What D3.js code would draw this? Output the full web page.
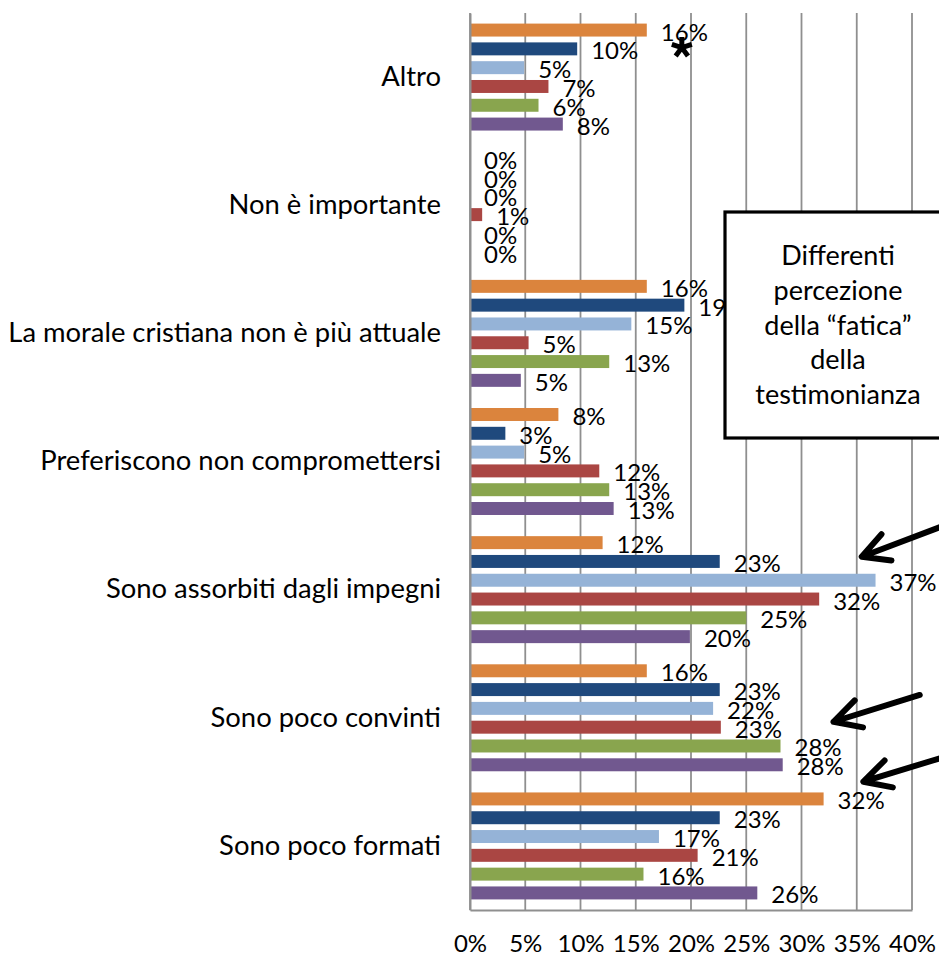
<!DOCTYPE html>
<html>
<head>
<meta charset="utf-8">
<script src="https://cdn.jsdelivr.net/npm/d3@7"></script>
<style>
  html, body { margin: 0; padding: 0; background: #ffffff; }
  svg { display: block; }
  text { font-family: Lato, "Open Sans", sans-serif; fill: #000; }
</style>
</head>
<body>
<script>
// Categories, top to bottom
const categories = [
  "Altro",
  "Non è importante",
  "La morale cristiana non è più attuale",
  "Preferiscono non compromettersi",
  "Sono assorbiti dagli impegni",
  "Sono poco convinti",
  "Sono poco formati"
];

// Series values (percent), one entry per category
const serieArancio = [16.0, 0.0, 16.0, 8.0, 12.0, 16.0, 32.0];
const serieBlu     = [9.7, 0.0, 19.4, 3.2, 22.6, 22.6, 22.6];
const serieAzzurro = [4.9, 0.0, 14.6, 4.9, 36.7, 22.0, 17.1];
const serieRosso   = [7.1, 1.1, 5.3, 11.7, 31.6, 22.7, 20.6];
const serieVerde   = [6.2, 0.0, 12.6, 12.6, 25.0, 28.1, 15.7];
const serieViola   = [8.4, 0.0, 4.6, 13.0, 19.9, 28.3, 26.0];

const seriesKeys   = ["arancio", "blu", "azzurro", "rosso", "verde", "viola"];
const seriesValues = [serieArancio, serieBlu, serieAzzurro, serieRosso, serieVerde, serieViola];
const seriesColors = ["#DB843D", "#1F497D", "#95B3D7", "#AA4643", "#89A54E", "#71588F"];

// Axis ticks (percent)
const xTicks = [0, 5, 10, 15, 20, 25, 30, 35, 40];

// Callout box text
const boxLines = ["Differenti", "percezione", "della \u201Cfatica\u201D", "della", "testimonianza"];

const W = 939, H = 956;
const plot = { left: 470, right: 912, top: 13, bottom: 910 };
const FONT = "Lato, 'Open Sans', sans-serif";

const svg = d3.select("body").append("svg")
  .attr("width", W).attr("height", H)
  .attr("viewBox", `0 0 ${W} ${H}`);

const x = d3.scaleLinear().domain([0, 40]).range([plot.left, plot.right]);
const y = d3.scaleBand().domain(categories).range([plot.top, plot.bottom]);
const yInner = d3.scaleBand().domain(seriesKeys)
  .range([0, y.bandwidth()])
  .paddingInner(0.31)
  .paddingOuter(0.563);
// continuous vertical position in category units (0 = top of plot, 7 = bottom)
const yPos = d3.scaleLinear().domain([0, categories.length]).range([plot.top, plot.bottom]);

// vertical gridlines
svg.append("g").attr("class", "grid")
  .selectAll("line").data(xTicks).join("line")
  .attr("x1", d => x(d)).attr("x2", d => x(d))
  .attr("y1", plot.top).attr("y2", plot.bottom)
  .attr("stroke", "#8f8f8f").attr("stroke-width", 1.8);

// bars
const rows = [];
seriesKeys.forEach((k, si) => {
  categories.forEach((c, ci) => {
    rows.push({ key: k, cat: c, value: seriesValues[si][ci], color: seriesColors[si] });
  });
});

svg.append("g").attr("class", "bars")
  .selectAll("rect").data(rows).join("rect")
  .attr("x", x(0))
  .attr("y", d => y(d.cat) + yInner(d.key))
  .attr("width", d => x(d.value) - x(0))
  .attr("height", yInner.bandwidth())
  .attr("fill", d => d.color);

// data labels
const fmt = v => d3.format(".0f")(v) + "%";
svg.append("g").attr("class", "labels")
  .selectAll("text").data(rows).join("text")
  .attr("x", d => x(d.value) + 14)
  .attr("y", d => y(d.cat) + yInner(d.key) + yInner.bandwidth() / 2 + 10.5)
  .attr("font-size", 24)
  .text(d => fmt(d.value));

// category axis
const yAxis = svg.append("g")
  .attr("transform", `translate(${plot.left},0)`)
  .call(d3.axisLeft(y).tickSize(0).tickPadding(29));
yAxis.select(".domain").attr("stroke", "#8f8f8f").attr("stroke-width", 2);
yAxis.selectAll("text")
  .attr("font-size", 27.4)
  .attr("font-family", FONT)
  .attr("fill", "#000");

// value axis
const xAxis = svg.append("g")
  .attr("transform", `translate(0,${plot.bottom})`)
  .call(d3.axisBottom(x).tickValues(xTicks).tickSize(0).tickPadding(25)
    .tickFormat(d => d + "%"));
xAxis.select(".domain").attr("stroke", "#8f8f8f").attr("stroke-width", 2);
xAxis.selectAll("text")
  .attr("font-size", 24)
  .attr("font-family", FONT)
  .attr("fill", "#000");

// asterisk annotation: five heavy strokes from a common centre
const astCenter = [x(19.17), yPos(0.27)];
const astArms = [90, 18, -54, -126, 162];
const astLen = 10.5;
const ast = d3.path();
astArms.forEach(a => {
  const r = a * Math.PI / 180;
  ast.moveTo(astCenter[0], astCenter[1]);
  ast.lineTo(astCenter[0] + astLen * Math.cos(r), astCenter[1] - astLen * Math.sin(r));
});
svg.append("path")
  .attr("d", ast.toString())
  .attr("stroke", "#000").attr("stroke-width", 5)
  .attr("stroke-linecap", "butt").attr("fill", "none");

// callout box
const box = svg.append("g").attr("class", "callout");
box.append("rect")
  .attr("x", 725).attr("y", 212)
  .attr("width", 226).attr("height", 226)
  .attr("fill", "#fff").attr("stroke", "#000").attr("stroke-width", 3.2);
box.selectAll("text").data(boxLines).join("text")
  .attr("x", 838)
  .attr("y", (d, i) => 265 + i * 34.8)
  .attr("text-anchor", "middle")
  .attr("font-size", 27)
  .text(d => d);

// arrows, in chart units: x in percent, y in category units
const arrows = [
  { tail: [43.5, 3.98], tip: [35.45, 4.243] },
  { tail: [40.7, 5.322], tip: [32.9, 5.531] },
  { tail: [43.5, 5.79], tip: [35.6, 5.999] }
];
const headLen = 30, headAngle = 28 * Math.PI / 180;
const ag = svg.append("g").attr("class", "arrows")
  .attr("stroke", "#000").attr("stroke-width", 6)
  .attr("stroke-linecap", "round").attr("stroke-linejoin", "round")
  .attr("fill", "none");
arrows.forEach(a => {
  const t = [x(a.tail[0]), yPos(a.tail[1])];
  const p = [x(a.tip[0]), yPos(a.tip[1])];
  const ang = Math.atan2(t[1] - p[1], t[0] - p[0]);
  const w1 = [p[0] + headLen * Math.cos(ang - headAngle), p[1] + headLen * Math.sin(ang - headAngle)];
  const w2 = [p[0] + headLen * Math.cos(ang + headAngle), p[1] + headLen * Math.sin(ang + headAngle)];
  const path = d3.path();
  path.moveTo(t[0], t[1]); path.lineTo(p[0], p[1]);
  path.moveTo(w1[0], w1[1]); path.lineTo(p[0], p[1]); path.lineTo(w2[0], w2[1]);
  ag.append("path").attr("d", path.toString());
});
</script>
</body>
</html>
